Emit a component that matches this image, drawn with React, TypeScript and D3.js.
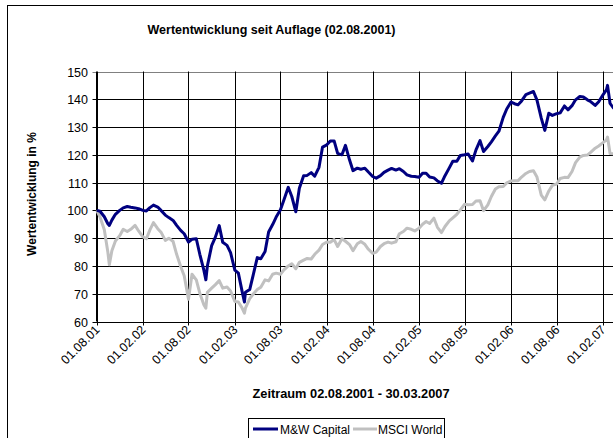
import React from "react";
import * as d3 from "d3";

const dates = [
  "2001-08-02","2001-08-15","2001-09-01","2001-09-15","2001-09-21","2001-10-01","2001-10-15","2001-11-01","2001-11-15","2001-12-01","2001-12-15",
  "2002-01-01","2002-01-15","2002-02-01","2002-02-15","2002-03-01","2002-03-15","2002-04-01","2002-04-15","2002-05-01","2002-05-15","2002-06-01","2002-06-15",
  "2002-07-01","2002-07-15","2002-08-01","2002-08-15","2002-09-01","2002-09-15","2002-10-01","2002-10-09","2002-10-15","2002-11-01","2002-11-15","2002-12-01","2002-12-15",
  "2003-01-01","2003-01-15","2003-02-01","2003-02-15","2003-03-01","2003-03-11","2003-03-15","2003-04-01","2003-04-15","2003-05-01","2003-05-15","2003-06-01","2003-06-15",
  "2003-07-01","2003-07-15","2003-08-01","2003-08-15","2003-09-01","2003-09-15","2003-10-01","2003-10-15","2003-11-01","2003-11-15","2003-12-01","2003-12-15",
  "2004-01-01","2004-01-15","2004-02-01","2004-02-15","2004-03-01","2004-03-15","2004-04-01","2004-04-15","2004-05-01","2004-05-15","2004-06-01","2004-06-15",
  "2004-07-01","2004-07-15","2004-08-01","2004-08-15","2004-09-01","2004-09-15","2004-10-01","2004-10-15","2004-11-01","2004-11-15","2004-12-01","2004-12-15",
  "2005-01-01","2005-01-15","2005-02-01","2005-02-15","2005-03-01","2005-03-15","2005-04-01","2005-04-15","2005-05-01","2005-05-15","2005-06-01","2005-06-15",
  "2005-07-01","2005-07-15","2005-08-01","2005-08-15","2005-09-01","2005-09-15","2005-10-01","2005-10-15","2005-11-01","2005-11-15","2005-12-01","2005-12-15",
  "2006-01-01","2006-01-15","2006-02-01","2006-02-15","2006-03-01","2006-03-15","2006-04-01","2006-04-15","2006-05-01","2006-05-15","2006-06-01","2006-06-15",
  "2006-07-01","2006-07-15","2006-08-01","2006-08-15","2006-09-01","2006-09-15","2006-10-01","2006-10-15","2006-11-01","2006-11-15","2006-12-01","2006-12-15",
  "2007-01-01","2007-01-15","2007-02-01","2007-02-15","2007-02-19","2007-03-01","2007-03-15","2007-03-30"
];

const mwCapital = [
  100, 99.7, 97.7, 95.2, 94.6, 96.5, 98.6, 100, 100.9, 101.4, 101.1,
  100.9, 100.6, 100, 99.8, 101, 101.9, 101.2, 99.9, 98.3, 97.4, 96.4, 94.6,
  92.8, 91.6, 88.6, 89.6, 89.8, 84.2, 78.5, 75, 80, 87.3, 90.2, 94.5, 88.5,
  87.4, 84.8, 78.5, 77.4, 71.2, 67, 70.5, 71.5, 76.8, 83, 82.6, 85.2, 92.2,
  94.9, 97.6, 100.2, 103.8, 108.3, 105, 99.5, 108, 112.5, 112.6, 113.6, 112.3,
  115.5, 122.8, 123.6, 125, 125, 120.5, 120, 123.4, 118.2, 114.3, 115.2, 114.8,
  115.2, 113.8, 112.2, 111.6, 112.5, 113.7, 114.5, 115.1, 114.5, 115, 114, 112.8,
  112.3, 112.2, 111.9, 113.4, 113.4, 112, 111.7, 110.6, 109.8, 112.5, 115.3, 117.7,
  117.7, 119.8, 120, 120.3, 117.8, 121.8, 125.1, 121.2, 123, 124.7, 126.8, 128.5,
  133.5, 136.5, 139, 138.4, 138, 139.4, 141.7, 142.2, 142.8, 139.7, 133.2, 128.8,
  135, 134.2, 134.8, 135.1, 137.6, 136.2, 137.7, 139.8, 141, 140.8, 139.8, 139.1,
  137.8, 139.1, 141.6, 143.5, 145, 138.5, 136.8, 137
];

const msciWorld = [
  100, 97.6, 93, 85, 80.4, 85.5, 89, 90.9, 93.2, 92.4, 93.2,
  94.6, 92.6, 90.5, 89.8, 93, 95.6, 93.4, 92, 89.2, 90, 88.8, 84.2,
  79.8, 76.5, 68, 77, 75, 70.2, 66, 64.8, 70.5, 72, 73.2, 74.7, 72,
  72.4, 71, 67.2, 67, 65, 63, 64.8, 68.2, 69.9, 71.5, 72.3, 75, 74.6,
  77, 77.4, 77, 78.6, 80, 80.8, 79, 81.3, 82.1, 82.7, 82.5, 84.2,
  85.7, 87.7, 88.6, 88.5, 89.5, 87, 89.8, 88.9, 87.7, 85.5, 88, 88.8,
  87.8, 86, 84.5, 85, 87, 88, 88.6, 88.2, 88.7, 91.6, 92.4, 93.6,
  93.2, 92.6, 93.6, 95, 96, 95.3, 97.2, 93.9, 92, 94.2, 96.2, 97.3,
  98.6, 100.2, 102.2, 102, 102.1, 103.4, 103.5, 99.9, 102, 105, 107.7, 108.5,
  108.6, 109.9, 110.6, 110.7, 110.7, 112, 113.3, 114, 114.3, 112, 105.5, 103.8,
  107, 109, 109.5, 111.5, 111.9, 111.8, 114, 117.2, 119.2, 119.8, 119.9, 121,
  122.4, 123.2, 124.4, 125.4, 126.4, 120.5, 120.4, 120.5
];

const xTickLabels = [
  "01.08.01","01.02.02","01.08.02","01.02.03","01.08.03","01.02.04",
  "01.08.04","01.02.05","01.08.05","01.02.06","01.08.06","01.02.07"
];
const yTicks = [60, 70, 80, 90, 100, 110, 120, 130, 140, 150];
const seriesNames = ["M&W Capital", "MSCI World"];
const titleText = "Wertentwicklung seit Auflage (02.08.2001)";
const yTitle = "Wertentwicklung in %";
const xTitle = "Zeitraum 02.08.2001 - 30.03.2007";

const W = 613;
const H = 438;
const FONT = "Arial, 'Liberation Sans', sans-serif";
const BLUE = "#000080";
const GRAY = "#C0C0C0";

export default function App() {
  const parse = d3.timeParse("%Y-%m-%d");
  const parseTick = d3.timeParse("%d.%m.%y");
  const tickDates = xTickLabels.map((t) => parseTick(t) as Date);

  const left = 96.5;
  const top = 71.5;
  const bottom = 321.5;
  const x = d3
    .scaleTime()
    .domain([tickDates[0], tickDates[tickDates.length - 1]])
    .range([left, 603]);
  const plotRight = 622;
  const y = d3.scaleLinear().domain([60, 150]).range([bottom, top]);

  const pts = dates.map((d) => parse(d) as Date);
  const line = d3
    .line<number>()
    .x((_, i) => x(pts[i]))
    .y((v) => y(v));

  return (
    <svg
      width={W}
      height={H}
      style={{ position: "absolute", left: 0, top: 0, background: "#fff" }}
      fontFamily={FONT}
    >
      <rect x={0} y={0} width={W} height={H} fill="#fff" />
      <rect x={7.5} y={5.5} width={W + 20} height={H + 20} fill="none" stroke="#000" strokeWidth={1} />
      <text x={271.5} y={34} textAnchor="middle" fontSize={12.5} fontWeight="bold">
        {titleText}
      </text>

      {yTicks.map((t) => (
        <g key={"y" + t}>
          <line
            x1={left - 4}
            x2={plotRight}
            y1={Math.round(y(t)) + 0.5}
            y2={Math.round(y(t)) + 0.5}
            stroke={t === 150 ? "#808080" : "#000"}
            strokeWidth={1}
          />
          <text x={88} y={Math.round(y(t)) + 4.5} textAnchor="end" fontSize={12.5}>
            {t}
          </text>
        </g>
      ))}

      {tickDates.map((d, i) => {
        const xp = Math.round(x(d)) + 0.5;
        return (
          <g key={"x" + i}>
            <line x1={xp} x2={xp} y1={top} y2={bottom + 4} stroke="#000" strokeWidth={1} />
            <text
              transform={`translate(${xp + 3},${bottom + 9}) rotate(-45)`}
              textAnchor="end"
              fontSize={12.5}
            >
              {xTickLabels[i]}
            </text>
          </g>
        );
      })}

      <line x1={left} x2={left} y1={top} y2={bottom} stroke="#000" />

      <path d={line(msciWorld) || ""} fill="none" stroke={GRAY} strokeWidth={3} strokeLinejoin="round" />
      <path d={line(mwCapital) || ""} fill="none" stroke={BLUE} strokeWidth={3} strokeLinejoin="round" />

      <text transform={`translate(36,194) rotate(-90)`} textAnchor="middle" fontSize={12} fontWeight="bold">
        {yTitle}
      </text>
      <text x={351} y={398} textAnchor="middle" fontSize={12.8} fontWeight="bold">
        {xTitle}
      </text>

      <rect x={248.5} y={418.5} width={196} height={26} fill="#fff" stroke="#000" strokeWidth={1} />
      <line x1={253} x2={278} y1={429} y2={429} stroke={BLUE} strokeWidth={3} />
      <text x={280} y={433.5} fontSize={12}>{seriesNames[0]}</text>
      <line x1={353} x2={377} y1={429} y2={429} stroke={GRAY} strokeWidth={3} />
      <text x={378} y={433.5} fontSize={12}>{seriesNames[1]}</text>
    </svg>
  );
}
